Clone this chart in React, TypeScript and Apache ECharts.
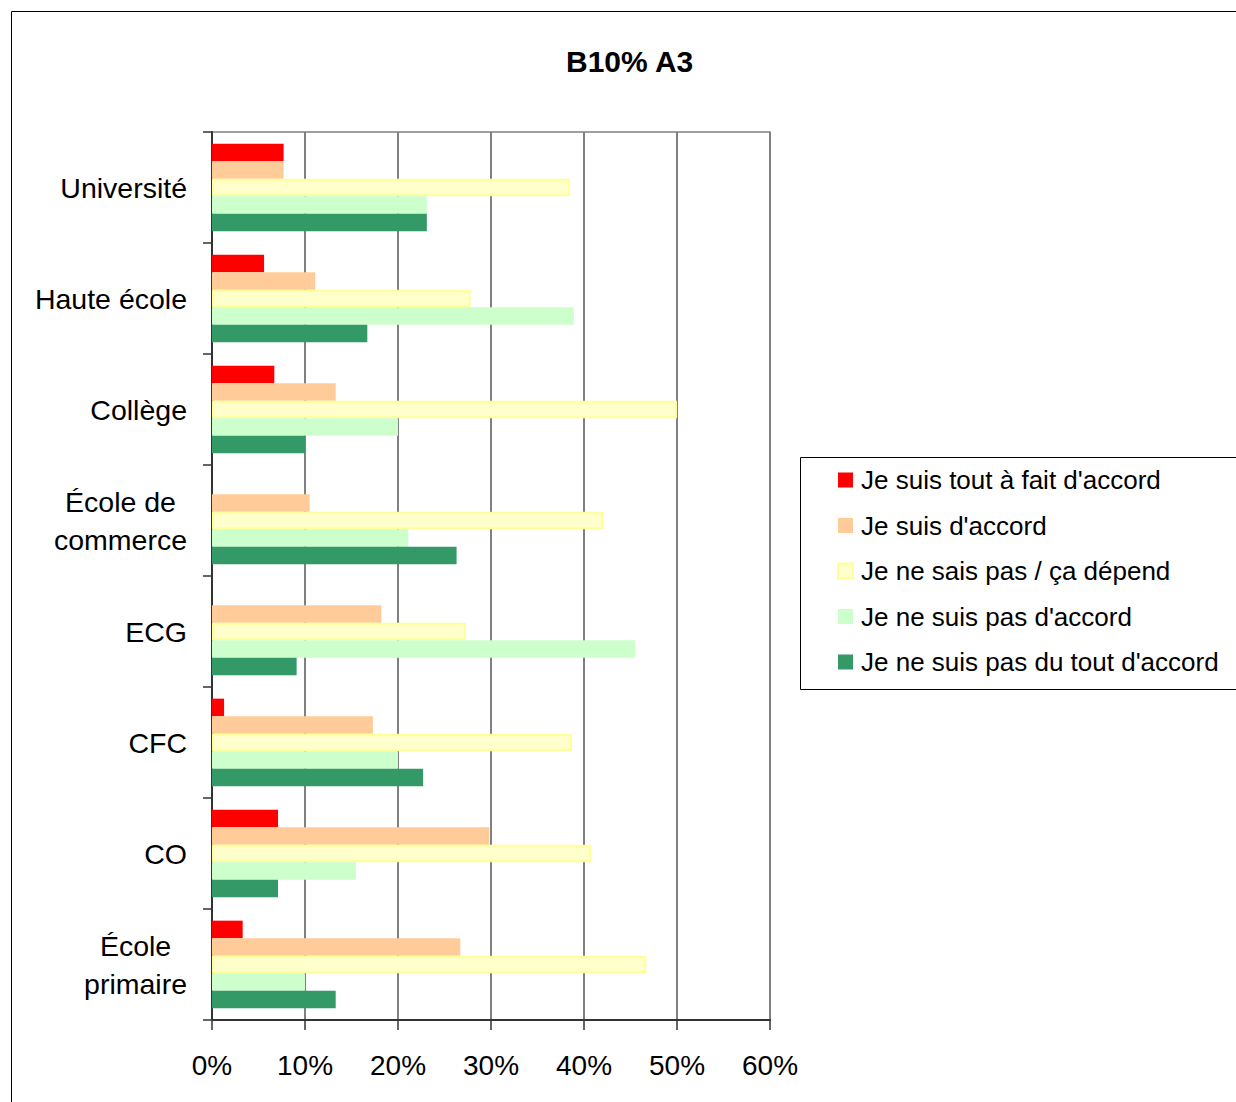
import React, { useEffect, useRef } from "react";
import * as echarts from "echarts";

const FONT = "'Liberation Sans', Arial, sans-serif";

const categories = [
  "Université",
  "Haute école",
  "Collège",
  "École de\ncommerce",
  "ECG",
  "CFC",
  "CO",
  "École\nprimaire",
];

const seriesNames = [
  "Je suis tout à fait d'accord",
  "Je suis d'accord",
  "Je ne sais pas / ça dépend",
  "Je ne suis pas d'accord",
  "Je ne suis pas du tout d'accord",
];

// percentages per category, top to bottom
const toutAFaitDAccord = [7.7, 5.6, 6.7, 0, 0, 1.3, 7.1, 3.3];
const dAccord = [7.7, 11.1, 13.3, 10.5, 18.2, 17.3, 29.8, 26.7];
const neSaisPas = [38.5, 27.8, 50.0, 42.1, 27.3, 38.7, 40.8, 46.7];
const pasDAccord = [23.1, 38.9, 20.0, 21.1, 45.5, 20.0, 15.5, 10.0];
const pasDuToutDAccord = [23.1, 16.7, 10.0, 26.3, 9.1, 22.7, 7.1, 13.3];

const xTicks = [0, 10, 20, 30, 40, 50, 60];

const seriesValues = [toutAFaitDAccord, dAccord, neSaisPas, pasDAccord, pasDuToutDAccord];
const fills = ["#FF0000", "#FFCC99", "#FFFFCC", "#CCFFCC", "#339966"];
const borders = ["#FF0000", "#FFCC99", "#FFFF99", "#CCFFCC", "#339966"];

export default function App() {
  const ref = useRef<HTMLDivElement>(null);

  useEffect(() => {
    if (!ref.current) return;
    const chart = echarts.init(ref.current, undefined, { renderer: "svg" });

    const option: any = {
      animation: false,
      backgroundColor: "#ffffff",
      title: {
        text: "B10% A3",
        left: 561,
        top: 41,
        textStyle: { fontFamily: FONT, fontSize: 30, fontWeight: "bold", color: "#000" },
      },
      legend: {
        orient: "vertical",
        left: 832,
        top: 462,
        itemWidth: 15,
        itemHeight: 15,
        itemGap: 19.5,
        icon: "rect",
        textStyle: { fontFamily: FONT, fontSize: 26, color: "#000", lineHeight: 26, padding: [0, 0, 0, 3] },
        data: seriesNames,
      },
      graphic: [
        {
          type: "rect",
          shape: { x: 11.5, y: 11.5, width: 1400, height: 1300 },
          style: { fill: "none", stroke: "#000", lineWidth: 1 },
          silent: true,
        },
        {
          type: "rect",
          shape: { x: 800.5, y: 457.5, width: 600, height: 232 },
          style: { fill: "none", stroke: "#000", lineWidth: 1 },
          silent: true,
        },
      ],
      grid: {
        left: 212,
        top: 132,
        width: 558,
        height: 888,
        show: true,
        borderColor: "#808080",
        borderWidth: 1.5,
        containLabel: false,
      },
      xAxis: {
        type: "value",
        min: xTicks[0],
        max: xTicks[xTicks.length - 1],
        interval: 10,
        axisLine: { show: true, lineStyle: { color: "#333", width: 2 } },
        axisTick: { show: true, length: 10, lineStyle: { color: "#333", width: 1.5 } },
        splitLine: { show: true, lineStyle: { color: "#808080", width: 2 } },
        axisLabel: {
          formatter: "{value}%",
          margin: 31,
          fontFamily: FONT,
          fontSize: 28,
          color: "#000",
        },
      },
      yAxis: {
        type: "category",
        inverse: true,
        data: categories,
        axisLine: { show: true, lineStyle: { color: "#333", width: 2 } },
        axisTick: { show: true, length: 9, lineStyle: { color: "#333", width: 1.5 } },
        splitLine: { show: false },
        axisLabel: {
          margin: 25,
          align: "right",
          formatter: (v: string) =>
            v
              .split("\n")
              .map((line) => `{c|${line}}`)
              .join("\n"),
          rich: {
            c: { align: "center", fontFamily: FONT, fontSize: 28.5, lineHeight: 38, color: "#000" },
          },
        },
      },
      series: seriesNames.map((name, i) => ({
        name,
        type: "bar",
        data: seriesValues[i],
        barGap: "0%",
        barCategoryGap: "21%",
        itemStyle: {
          color: fills[i],
          borderColor: borders[i],
          borderWidth: i === 2 ? 2 : 0,
        },
      })),
    };

    chart.setOption(option);
    return () => chart.dispose();
  }, []);

  return (
    <div
      ref={ref}
      style={{ position: "fixed", left: 0, top: 0, width: 1236, height: 1102, background: "#fff" }}
    />
  );
}
